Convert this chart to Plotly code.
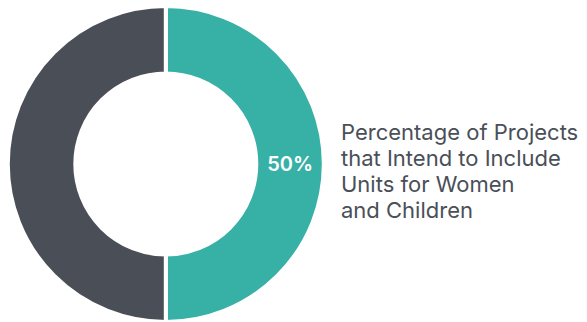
import plotly.graph_objects as go

labels = ["Intend to include units for women and children", "Other"]
values = [50, 50]
colors = ["#37b0a6", "#494e57"]
caption_lines = ["Percentage of Projects", "that Intend to Include",
                 "Units for Women", "and Children"]

W, H = 587, 322
cx, cy_top, R = 165.8, 164.0, 158.0
fig = go.Figure(go.Pie(
    labels=labels,
    values=values,
    hole=0.573,
    sort=False,
    direction="clockwise",
    rotation=0,
    marker=dict(colors=colors, line=dict(color="white", width=4)),
    texttemplate=["%{percent:.0%}", ""],
    textposition="inside",
    insidetextorientation="horizontal",
    insidetextfont=dict(family="Inter", size=20, color="white", weight=600),
    domain=dict(x=[(cx - R) / W, (cx + R) / W],
                y=[max(0, (H - cy_top - R) / H), min(1, (H - cy_top + R) / H)]),
    showlegend=False,
    hoverinfo="skip",
))

fs = 22
first_baseline, line_gap = 139, 26
for i, line in enumerate(caption_lines):
    top = first_baseline + i * line_gap - fs
    fig.add_annotation(
        text=line, xref="paper", yref="paper", x=339 / W, y=(H - top) / H,
        xanchor="left", yanchor="top", align="left", showarrow=False,
        font=dict(family="Inter", size=fs, color="#4a4f58"),
    )

fig.update_layout(
    width=W, height=H,
    margin=dict(l=0, r=0, t=0, b=0),
    paper_bgcolor="white", plot_bgcolor="white",
)
fig.write_html("out.html", config={"displayModeBar": False},
               post_script="document.body.style.margin='0';")
